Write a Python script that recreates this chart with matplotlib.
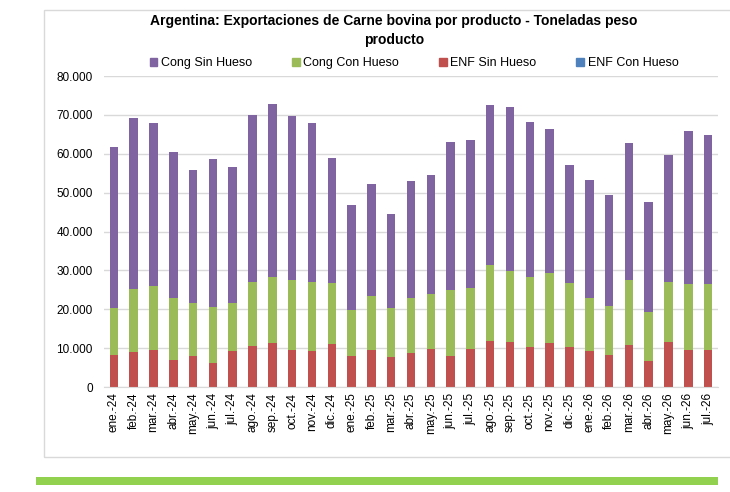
import matplotlib
matplotlib.use("Agg")
import matplotlib.pyplot as plt
from matplotlib.patches import Rectangle
from matplotlib.ticker import FuncFormatter, MultipleLocator
import numpy as np

plt.rcParams['font.family'] = ['Liberation Sans', 'DejaVu Sans']

months = ["ene.-24", "feb.-24", "mar.-24", "abr.-24", "may.-24", "jun.-24", "jul.-24",
          "ago.-24", "sep.-24", "oct.-24", "nov.-24", "dic.-24",
          "ene.-25", "feb.-25", "mar.-25", "abr.-25", "may.-25", "jun.-25", "jul.-25",
          "ago.-25", "sep.-25", "oct.-25", "nov.-25", "dic.-25",
          "ene.-26", "feb.-26", "mar.-26", "abr.-26", "may.-26", "jun.-26", "jul.-26"]

# cumulative tops (toneladas)
total_top = [61800, 69100, 68000, 60400, 55800, 58700, 56600, 70000, 72700, 69700, 67800, 58900,
             46700, 52300, 44500, 53000, 54500, 62900, 63600, 72500, 71900, 68200, 66400, 57000,
             53200, 49300, 62700, 47600, 59600, 65900, 64900]
green_top = [20400, 25200, 26000, 23000, 21500, 20500, 21500, 27000, 28400, 27400, 26900, 26700,
             19900, 23300, 20400, 22800, 23900, 24900, 25400, 31300, 29900, 28400, 29400, 26800,
             22800, 20900, 27400, 19200, 26900, 26500, 26600]
enf_sin = [8200, 9000, 9500, 7000, 8000, 6300, 9200, 10600, 11200, 9600, 9200, 11000,
           7900, 9600, 7600, 8700, 9800, 7900, 9800, 11800, 11500, 10400, 11300, 10200,
           9200, 8200, 10900, 6600, 11600, 9600, 9600]
enf_con = [0] * len(months)

enf_sin = np.array(enf_sin)
enf_con = np.array(enf_con)
cong_con = np.array(green_top) - enf_sin
cong_sin = np.array(total_top) - np.array(green_top)

c_purple = "#8064A2"
c_green = "#9BBB59"
c_red = "#C0504D"
c_blue = "#4F81BD"

fig = plt.figure(figsize=(7.3, 4.92), dpi=100)
fig.patch.set_facecolor("white")

# outer chart frame
fig.patches.append(Rectangle((44/730, 1-457/492), 1.0, (457-10)/492, transform=fig.transFigure,
                             fill=False, edgecolor="#D9D9D9", linewidth=1.0))
# green bar at bottom
fig.patches.append(Rectangle((36/730, 1-485/492), (718-36)/730, 8/492, transform=fig.transFigure,
                             facecolor="#92D050", edgecolor="none"))

ax = fig.add_axes([104/730, 1-387/492, 614/730, 311/492])
x = np.arange(len(months))
w = 0.43
ax.bar(x, enf_con, w, color=c_blue, zorder=3)
ax.bar(x, enf_sin, w, bottom=enf_con, color=c_red, zorder=3)
ax.bar(x, cong_con, w, bottom=enf_con + enf_sin, color=c_green, zorder=3)
ax.bar(x, cong_sin, w, bottom=enf_con + enf_sin + cong_con, color=c_purple, zorder=3)

ax.set_xlim(-0.5, len(months) - 0.5)
ax.set_ylim(0, 80000)
ax.yaxis.set_major_locator(MultipleLocator(10000))
ax.yaxis.set_major_formatter(FuncFormatter(lambda v, p: "0" if v == 0 else f"{int(v):,}".replace(",", ".")))
ax.grid(axis="y", color="#D9D9D9", linewidth=1.0, zorder=0)
for s in ["top", "right", "left"]:
    ax.spines[s].set_visible(False)
ax.spines["bottom"].set_color("#D9D9D9")
ax.spines["bottom"].set_zorder(4)
ax.set_xticks(x)
ax.set_xticklabels(months, rotation=90, fontsize=8.5)
ax.tick_params(axis="y", labelsize=8.5, length=0, pad=8)
ax.tick_params(axis="x", length=0, pad=4)

fig.text(394/730, 1-21/492, "Argentina: Exportaciones de Carne bovina por producto - Toneladas peso",
         ha="center", va="center", fontsize=10, fontweight="bold")
fig.text(394/730, 1-40/492, "producto", ha="center", va="center", fontsize=10, fontweight="bold")

handles = [Rectangle((0, 0), 1, 1, color=c) for c in [c_purple, c_green, c_red, c_blue]]
labels = ["Cong Sin Hueso", "Cong Con Hueso", "ENF Sin Hueso", "ENF Con Hueso"]
fig.legend(handles, labels, loc="center", bbox_to_anchor=(414/730, 1-63/492), ncol=4,
           frameon=False, fontsize=9, handlelength=0.6, handleheight=0.6,
           handletextpad=0.3, columnspacing=3.2)

fig.savefig("out.png", dpi=100)
